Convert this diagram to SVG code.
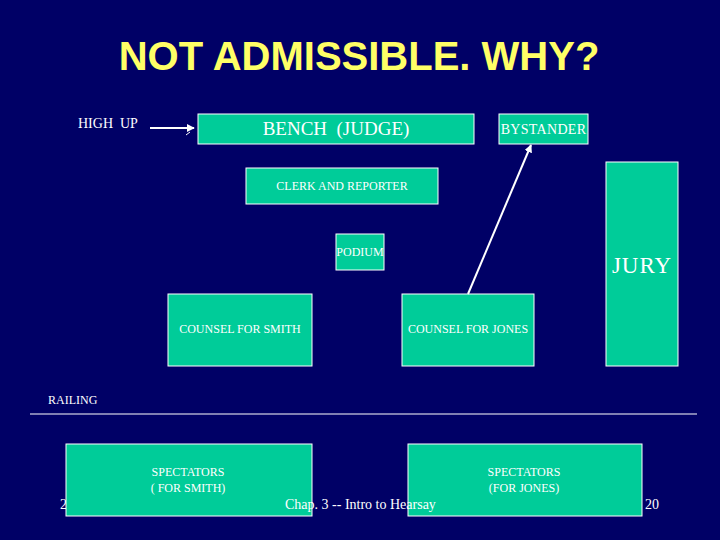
<svg xmlns="http://www.w3.org/2000/svg" width="720" height="540" viewBox="0 0 720 540">
<defs>
<style>
.box{fill:#00CC99;stroke:#FFFFFF;stroke-width:1}
.t{font-family:"Liberation Serif","Times New Roman",serif;fill:#FFFFFF;text-anchor:middle;white-space:pre}
.s{font-size:12px}
.conn{stroke:#FFFFFF;stroke-width:2;fill:none}
</style>
<marker id="ah" viewBox="0 0 10 10" refX="9" refY="5" markerWidth="4" markerHeight="4" orient="auto">
<path d="M0,0 L10,5 L0,10 z" fill="#FFFFFF"/>
</marker>
</defs>
<rect x="0" y="0" width="720" height="540" fill="#000066"/>
<text x="359" y="70" font-family="Liberation Sans, Arial, sans-serif" font-weight="bold" font-size="40" fill="#FFFF66" text-anchor="middle">NOT ADMISSIBLE. WHY?</text>
<text x="78" y="128" class="t" style="text-anchor:start;font-size:14px" xml:space="preserve">HIGH  UP</text>
<text x="60" y="509" class="t" style="text-anchor:start;font-size:14px">2</text>
<g id="bench"><rect class="box" x="198" y="114" width="276" height="30"/><text class="t" x="336" y="135" font-size="19" xml:space="preserve">BENCH  (JUDGE)</text></g>
<g id="bystander"><rect class="box" x="499" y="114" width="89" height="30"/><text class="t" x="543.5" y="134" font-size="14" letter-spacing="0.3">BYSTANDER</text></g>
<g id="clerk"><rect class="box" x="246" y="168" width="192" height="36"/><text class="t s" x="342" y="190">CLERK AND REPORTER</text></g>
<g id="podium"><rect class="box" x="336" y="234" width="48" height="36"/><text class="t s" x="360" y="256">PODIUM</text></g>
<g id="jury"><rect class="box" x="606" y="162" width="72" height="204"/><text class="t" x="642" y="273" font-size="23" letter-spacing="1">JURY</text></g>
<g id="counsel-smith"><rect class="box" x="168" y="294" width="144" height="72"/><text class="t s" x="240" y="333">COUNSEL FOR SMITH</text></g>
<g id="counsel-jones"><rect class="box" x="402" y="294" width="132" height="72"/><text class="t s" x="468" y="333">COUNSEL FOR JONES</text></g>
<g id="railing"><text class="t s" x="48" y="404" style="text-anchor:start">RAILING</text><line x1="30" y1="414" x2="697" y2="414" stroke="#FFFFFF" stroke-width="1"/></g>
<g id="spectators-smith"><rect class="box" x="66" y="444" width="246" height="72"/><text class="t s" x="188" y="476">SPECTATORS</text><text class="t s" x="188" y="492">( FOR SMITH)</text></g>
<g id="spectators-jones"><rect class="box" x="408" y="444" width="234" height="72"/><text class="t s" x="524" y="476">SPECTATORS</text><text class="t s" x="524" y="492">(FOR JONES)</text></g>
<g id="connectors">
<line class="conn" x1="150" y1="128" x2="194" y2="128" marker-end="url(#ah)"/>
<line x1="186" y1="135" x2="190" y2="132" stroke="#FFFFFF" stroke-width="1"/>
<line class="conn" x1="468" y1="294" x2="531" y2="145" marker-end="url(#ah)"/>
</g>
<text class="t" x="285" y="509" font-size="14" style="text-anchor:start">Chap. 3 -- Intro to Hearsay</text>
<text class="t" x="645" y="509" font-size="14" style="text-anchor:start">20</text>
</svg>
